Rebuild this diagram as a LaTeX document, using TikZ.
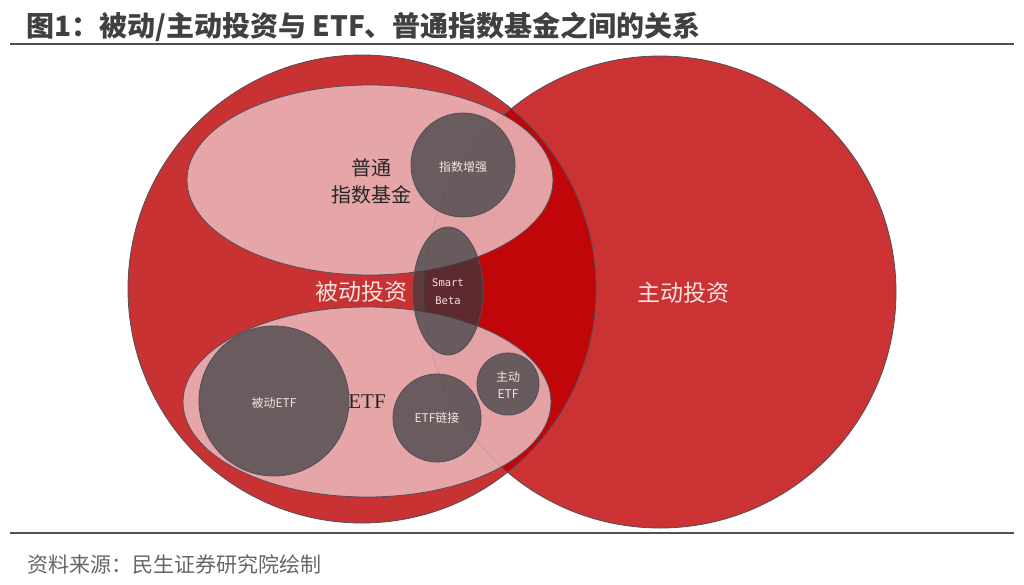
\documentclass[tikz,border=0pt]{standalone}
\usepackage{fontspec}
\newfontfamily\cjk{Noto Sans CJK SC}
\newfontfamily\serifl{Liberation Serif}
\newfontfamily\monol{DejaVu Sans Mono}
\definecolor{redA}{RGB}{201,50,50}
\definecolor{redB}{RGB}{203,50,52}
\definecolor{redO}{RGB}{192,6,8}
\definecolor{pinkE}{RGB}{234,179,181}
\definecolor{grayC}{RGB}{52,60,64}
\definecolor{edgec}{RGB}{80,78,92}
\definecolor{titlegray}{RGB}{64,64,64}
\definecolor{rulegray}{RGB}{80,80,80}
\definecolor{srcgray}{RGB}{102,102,102}
\definecolor{lightw}{RGB}{248,226,226}
\tikzset{
  outl/.style={draw=edgec, line width=0.8pt},
  pinkell/.style={fill=pinkE, fill opacity=0.9, outl},
  graycirc/.style={fill=grayC, fill opacity=0.7, outl},
  small/.style={text=lightw, inner sep=0pt, align=center, font=\cjk\fontsize{12}{17}\selectfont},
  big/.style={text=lightw, inner sep=0pt, font=\cjk\fontsize{23}{26}\selectfont},
}
\begin{document}
\begin{tikzpicture}[x=1pt,y=-1pt]
\useasboundingbox[fill=white] (0,0) rectangle (1024,584);
% title and rules
\node[anchor=west, inner sep=0pt, text=titlegray, font=\cjk\bfseries\fontsize{28}{32}\selectfont] (title) at (26,27) {图1：被动/主动投资与 ETF、普通指数基金之间的关系};
\draw[rulegray, line width=2.5pt] (10,44) -- (1014,44);
\draw[rulegray, line width=2.5pt] (10,533) -- (1014,533);
\node[anchor=west, inner sep=0pt, text=srcgray, font=\cjk\fontsize{21}{24}\selectfont] (src) at (27,564) {资料来源：民生证券研究院绘制};
% big circles
\fill[redA] (362,289) circle (234);
\fill[redB] (660,292) circle (236);
\begin{scope}
  \clip (362,289) circle (234);
  \fill[redO] (660,292) circle (236);
\end{scope}
\draw[outl] (362,289) circle (234);
\draw[outl] (660,292) circle (236);
% pink ellipses
\path[pinkell] (370,180) ellipse (183 and 95);
\path[pinkell] (367,402) ellipse (184 and 95);
\begin{scope}
  \clip (362,289) circle (234);
  \draw[edgec, opacity=0.15, line width=0.8pt] (660,292) circle (236);
\end{scope}
% gray circles
\path[graycirc] (463,165) circle (52);
\path[graycirc] (448,291) ellipse (35 and 64);
\path[graycirc] (274,401) circle (75);
\path[graycirc] (437,418) circle (44);
\path[graycirc] (508,384) circle (31);
% labels
\node[inner sep=0pt, align=center, text=black!85, font=\cjk\fontsize{20}{27}\selectfont] (ptzs) at (371,181) {普通\\指数基金};
\node[big] (bdtz) at (361,292) {被动投资};
\node[big] (zdtz) at (683,293) {主动投资};
\node[inner sep=0pt, text=black!85, font=\serifl\fontsize{21}{24}\selectfont] (etf) at (367,402) {ETF};
\node[small, font=\monol\fontsize{10.5}{18}\selectfont] (sb) at (448,292) {Smart\\Beta};
\node[small] (zszq) at (463,167) {指数增强};
\node[small] (bdetf) at (274,403) {被动ETF};
\node[small] (etflj) at (437,418) {ETF链接};
\node[small] (zdetf) at (508,385) {主动\\ETF};
\end{tikzpicture}
\end{document}
